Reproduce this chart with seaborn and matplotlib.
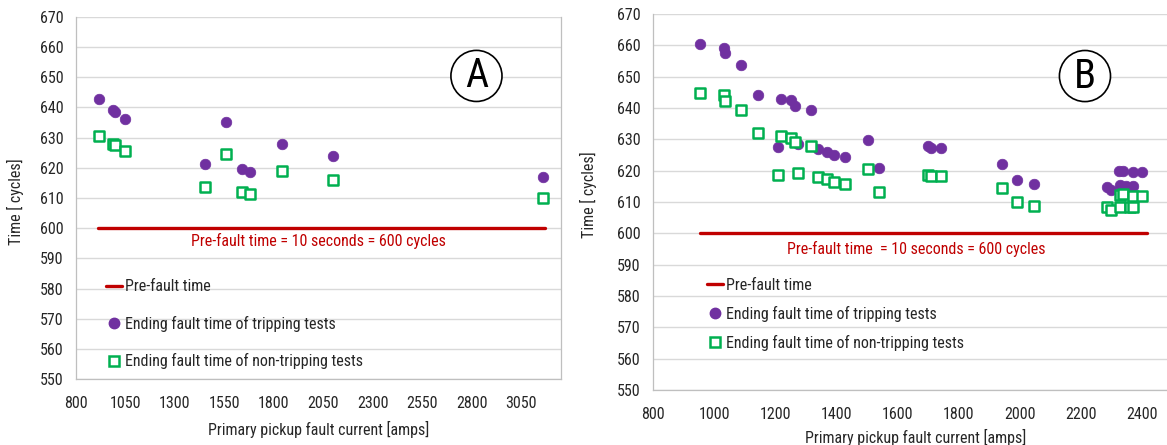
import matplotlib
matplotlib.use("Agg")
import matplotlib.pyplot as plt
import matplotlib.font_manager as fm
from matplotlib.lines import Line2D
import seaborn as sns

# ---- Panel A data ----
a_trip_current = [914, 989, 996, 1049, 1450, 1561, 1641, 1678, 1843, 2099, 3164]
a_trip_time = [642.7, 639.2, 638.3, 636.2, 621.2, 635.2, 619.5, 618.6, 628.0, 624.0, 616.9]
a_nontrip_current = [914, 989, 996, 1049, 1450, 1561, 1641, 1678, 1843, 2099, 3164]
a_nontrip_time = [630.5, 627.9, 627.5, 625.6, 613.5, 624.7, 611.9, 611.4, 619.0, 615.8, 610.0]
a_prefault_current = [912, 3173]
a_prefault_time = [600, 600]

# ---- Panel B data ----
b_trip_current = [952, 1030, 1035, 1086, 1144, 1219, 1252, 1264, 1316, 1209,
                  1273, 1341, 1369, 1392, 1427, 1504, 1539, 1699, 1710, 1743,
                  1941, 1990, 2048, 2285, 2300, 2327, 2339, 2330, 2348, 2370,
                  2370, 2400]
b_trip_time = [660.4, 659.3, 657.5, 653.8, 644.1, 642.9, 642.4, 640.7, 639.3, 627.6,
               628.6, 626.8, 626.0, 625.0, 624.3, 629.8, 620.7, 627.8, 627.3, 627.1,
               622.2, 616.9, 615.6, 614.8, 613.9, 619.8, 620.0, 615.3, 615.0, 615.0,
               619.5, 619.5]
b_nontrip_current = [952, 1030, 1036, 1086, 1144, 1219, 1252, 1264, 1316, 1209,
                     1274, 1341, 1369, 1392, 1427, 1504, 1539, 1699, 1710, 1743,
                     1941, 1990, 2048, 2285, 2300, 2328, 2340, 2330, 2360, 2372,
                     2370, 2400]
b_nontrip_time = [644.7, 644.1, 642.2, 639.4, 631.9, 631.0, 630.5, 629.0, 628.0, 618.5,
                  619.3, 617.9, 617.2, 616.5, 615.9, 620.5, 613.2, 618.6, 618.3, 618.2,
                  614.4, 610.0, 608.8, 608.3, 607.6, 612.3, 612.4, 608.3, 608.3, 608.3,
                  612.0, 612.0]
b_prefault_current = [954, 2418]
b_prefault_time = [600, 600]

a_xticks = [800, 1050, 1300, 1550, 1800, 2050, 2300, 2550, 2800, 3050]
b_xticks = [800, 1000, 1200, 1400, 1600, 1800, 2000, 2200, 2400]
yticks = [550, 560, 570, 580, 590, 600, 610, 620, 630, 640, 650, 660, 670]

labels = ["Pre-fault time",
          "Ending fault time of tripping tests",
          "Ending fault time of non-tripping tests"]

PURPLE = "#7030A0"
GREEN = "#00B050"
RED = "#C00000"
GRID = "#D9D9D9"
TEXT = "#262626"
FS = 11.5

sns.set_theme(style="white")
avail = {f.name for f in fm.fontManager.ttflist}
preferred = [f for f in ["Liberation Sans Narrow", "Roboto Condensed",
                         "Liberation Sans"] if f in avail]
plt.rcParams["font.family"] = preferred + ["DejaVu Sans"]
plt.rcParams["text.color"] = TEXT
plt.rcParams["xtick.color"] = TEXT
plt.rcParams["ytick.color"] = TEXT

fig = plt.figure(figsize=(11.67, 4.45), dpi=100)
axA = fig.add_axes([76 / 1167, (445 - 379.3) / 445, 484.5 / 1167, 362.6 / 445])
axB = fig.add_axes([653.3 / 1167, (445 - 390) / 445, 549.5 / 1167, 376 / 445])


def draw_panel(ax, tc, tt, nc, nt, pc, pt, xlim, xticks):
    sns.lineplot(x=pc, y=pt, ax=ax, color=RED, linewidth=2.4, zorder=3,
                 legend=False)
    sns.scatterplot(x=tc, y=tt, ax=ax, color=PURPLE, marker="o", s=58,
                    edgecolor=PURPLE, linewidth=0.5, zorder=4, legend=False)
    sns.scatterplot(x=nc, y=nt, ax=ax, marker="s", s=46, facecolor="white",
                    edgecolor=GREEN, linewidth=1.8, zorder=5, legend=False)
    ax.set_xlim(*xlim)
    ax.set_ylim(550, 670)
    ax.set_xticks(xticks)
    ax.set_yticks(yticks)
    ax.tick_params(axis="both", labelsize=FS, length=4, width=0.8,
                   color="#BFBFBF", pad=5)
    ax.tick_params(axis="x", direction="out", pad=8)
    ax.grid(axis="y", color=GRID, linewidth=1.0)
    ax.grid(axis="x", visible=False)
    ax.set_axisbelow(True)
    for side in ["left", "bottom", "right"]:
        ax.spines[side].set_color("#BFBFBF")
        ax.spines[side].set_linewidth(0.9)
    ax.spines["top"].set_visible(False)
    ax.set_xlabel("Primary pickup fault current [amps]", fontsize=FS)
    ax.set_ylabel("Time [ cycles]", fontsize=FS)


draw_panel(axA, a_trip_current, a_trip_time, a_nontrip_current, a_nontrip_time,
           a_prefault_current, a_prefault_time, (800, 3250), a_xticks)
draw_panel(axB, b_trip_current, b_trip_time, b_nontrip_current, b_nontrip_time,
           b_prefault_current, b_prefault_time, (800, 2600), b_xticks)

axA.xaxis.set_label_coords(0.5, -0.116)
axA.yaxis.set_label_coords(-0.107, 0.49)
axB.xaxis.set_label_coords(0.477, -0.104)
axB.yaxis.set_label_coords(-0.102, 0.52)

axA.text(2027, 595.8, "Pre-fault time = 10 seconds = 600 cycles", color=RED,
         fontsize=FS, ha="center", va="center")
axB.text(1660, 595.0, "Pre-fault time  = 10 seconds = 600 cycles", color=RED,
         fontsize=FS, ha="center", va="center")

circ = dict(boxstyle="circle,pad=0.15", fc="white", ec="black", lw=1.2)
axA.text(2825, 650.4, "A", fontsize=29, ha="center", va="center",
         color="black", bbox=circ, zorder=6)
axB.text(2214, 650.2, "B", fontsize=29, ha="center", va="center",
         color="black", bbox=circ, zorder=6)


def handles():
    return [
        Line2D([], [], color=RED, linewidth=2.4),
        Line2D([], [], color=PURPLE, marker="o", linestyle="none",
               markersize=7.5),
        Line2D([], [], color=GREEN, marker="s", linestyle="none",
               markersize=6.5, markerfacecolor="white", markeredgewidth=1.8),
    ]


axA.legend(handles(), labels, loc="upper left", bbox_to_anchor=(0.062, 0.276),
           frameon=False, fontsize=FS, handlelength=1.0, handletextpad=0.2,
           labelspacing=1.35, borderaxespad=0, borderpad=0)
axB.legend(handles(), labels, loc="upper left", bbox_to_anchor=(0.097, 0.298),
           frameon=False, fontsize=FS, handlelength=1.0, handletextpad=0.2,
           labelspacing=0.8, borderaxespad=0, borderpad=0)

fig.savefig("out.png", dpi=100)
